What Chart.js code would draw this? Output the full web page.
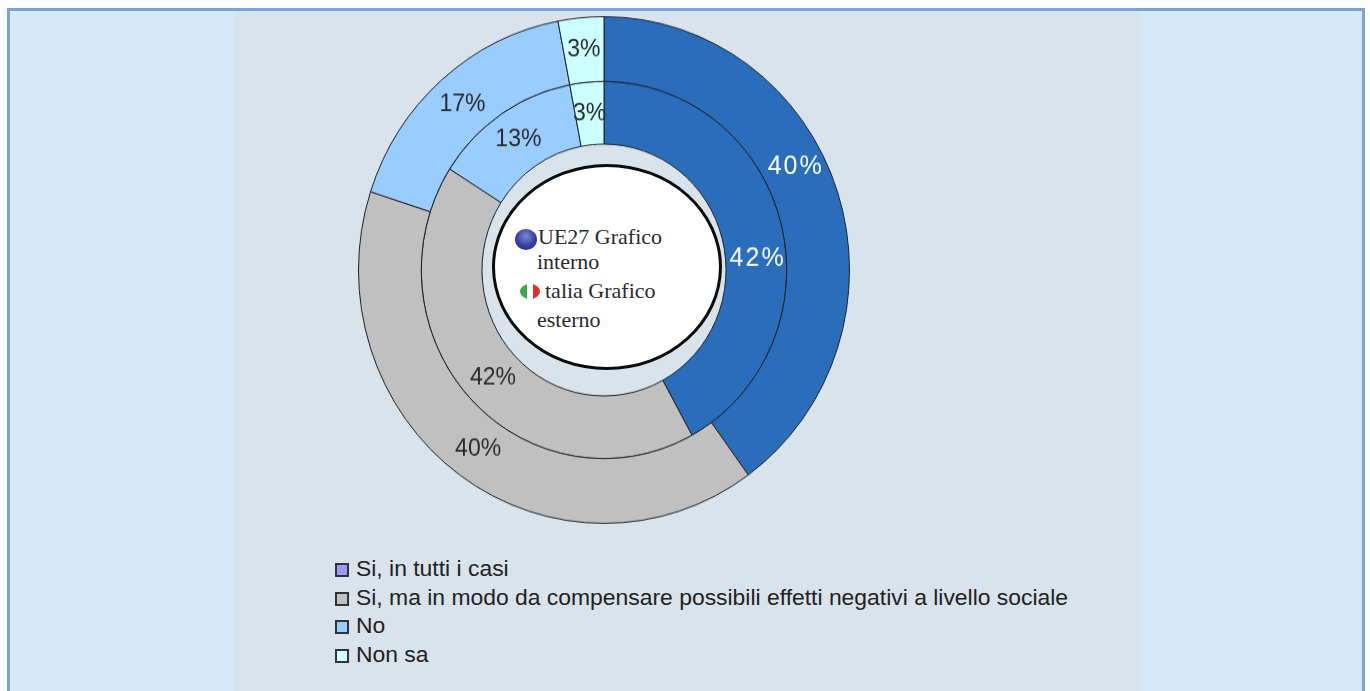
<!DOCTYPE html>
<html lang="it">
<head>
<meta charset="utf-8">
<title>Grafico</title>
<script src="https://cdn.jsdelivr.net/npm/chart.js@4/dist/chart.umd.js"></script>
<style>
  html, body { margin: 0; height: 100%; background: #fdfeff; overflow: hidden; }
  #frame {
    position: absolute; left: 7px; top: 8px; width: 1352px; height: 683px;
    border: solid #7ba3d8; border-width: 3px 3px 0 3px; background: #d6e8f7;
  }
  #panel { position: absolute; left: 234px; top: 11px; width: 907px; height: 680px; background: #d9e3ec; }
  #ring {
    position: absolute; left: 357px; top: 22.5px;
    transform: scaleY(1.032); transform-origin: 50% 50%;
  }
  #centre {
    position: absolute; left: 492px; top: 164px; width: 230px; height: 206px; box-sizing: border-box;
    border: 3px solid #0c0c0c; border-radius: 50%; background: #fff;
  }
  .note { position: absolute; font: 22px "Liberation Serif", serif; color: #2a2a2a; white-space: nowrap; line-height: 24px; }
  #globe {
    position: absolute; left: 515px; top: 229px; width: 22px; height: 21px; border-radius: 50%;
    background: radial-gradient(circle at 50% 35%, #7f88d0 0%, #353f9e 55%, #1f2a80 100%);
  }
  #flag {
    position: absolute; left: 520px; top: 284px; width: 20px; height: 15px; border-radius: 50%;
    background: linear-gradient(90deg, #3fa648 0 33%, #fff 33% 67%, #d8342c 67%);
  }
  #legend { position: absolute; left: 335px; top: 554px; font: 22.9px "Liberation Sans", Arial, sans-serif; color: #222; }
  #legend div { position: relative; height: 28.7px; line-height: 28.7px; padding-left: 21px; white-space: nowrap; }
  #legend i {
    position: absolute; left: 0; top: 9px; width: 10px; height: 10px;
    border: 2px solid #333;
  }
</style>
</head>
<body>
<div id="frame"></div>
<div id="panel"></div>
<div id="centre"></div>
<div id="globe"></div>
<div id="flag"></div>
<div class="note" style="left:538px;top:225px">UE27 Grafico</div>
<div class="note" style="left:537px;top:250px">interno</div>
<div class="note" style="left:545px;top:279px">talia Grafico</div>
<div class="note" style="left:537px;top:308px">esterno</div>
<canvas id="ring" width="494" height="494"></canvas>
<div id="legend"></div>

<script>
const categories = [
    "Si, in tutti i casi",
    "Si, ma in modo da compensare possibili effetti negativi a livello sociale",
    "No",
    "Non sa"
];
const italyValues = [40, 40, 17, 3];   // outer ring
const euValues = [42, 42, 13, 3];      // inner ring

const sliceColors = ['#2a6ebb', '#c0c0c0', '#99ccff', '#ccffff'];
const swatchColors = ['#9999ff', '#c0c0c0', '#99ccff', '#ccffff'];
const labelColors = ['#ffffff', '#2b2b2b', '#2b2b2b', '#2b2b2b'];

// the two blue labels don't sit at the middle of their slice
const labelShift = { '0-0': [-12, -34], '1-0': [6, 27] };

const percentLabels = {
    id: 'percentLabels',
    afterDatasetsDraw(chart) {
        const ctx = chart.ctx;
        ctx.save();
        ctx.textAlign = 'center';
        ctx.textBaseline = 'middle';
        chart.data.datasets.forEach((dataset, d) => {
            chart.getDatasetMeta(d).data.forEach((arc, i) => {
                const pos = arc.getCenterPoint();
                const shift = labelShift[d + '-' + i] || [0, 0];
                const white = i === 0;
                ctx.font = (white ? 25 : 23) + 'px "Liberation Sans", Arial, sans-serif';
                ctx.letterSpacing = white ? '2px' : '0px';
                ctx.fillStyle = labelColors[i];
                ctx.fillText(dataset.data[i] + '%', pos.x + shift[0], pos.y + shift[1]);
            });
        });
        ctx.restore();
    }
};

new Chart(document.getElementById('ring').getContext('2d'), {
    type: 'doughnut',
    data: {
        labels: categories,
        datasets: [
            { label: 'Italia', data: italyValues, backgroundColor: sliceColors, weight: 62.5 },
            { label: 'UE27', data: euValues, backgroundColor: sliceColors, weight: 60.5 }
        ]
    },
    options: {
        responsive: false,
        animation: false,
        radius: 245.5,
        cutout: 122.5,
        borderColor: '#1c2026',
        borderWidth: 1,
        plugins: {
            legend: { display: false },
            tooltip: { enabled: false }
        }
    },
    plugins: [percentLabels]
});

// legend rows
const legendBox = document.getElementById('legend');
categories.forEach((name, i) => {
    const row = document.createElement('div');
    const swatch = document.createElement('i');
    swatch.style.background = swatchColors[i];
    row.appendChild(swatch);
    row.appendChild(document.createTextNode(name));
    legendBox.appendChild(row);
});
</script>
</body>
</html>
